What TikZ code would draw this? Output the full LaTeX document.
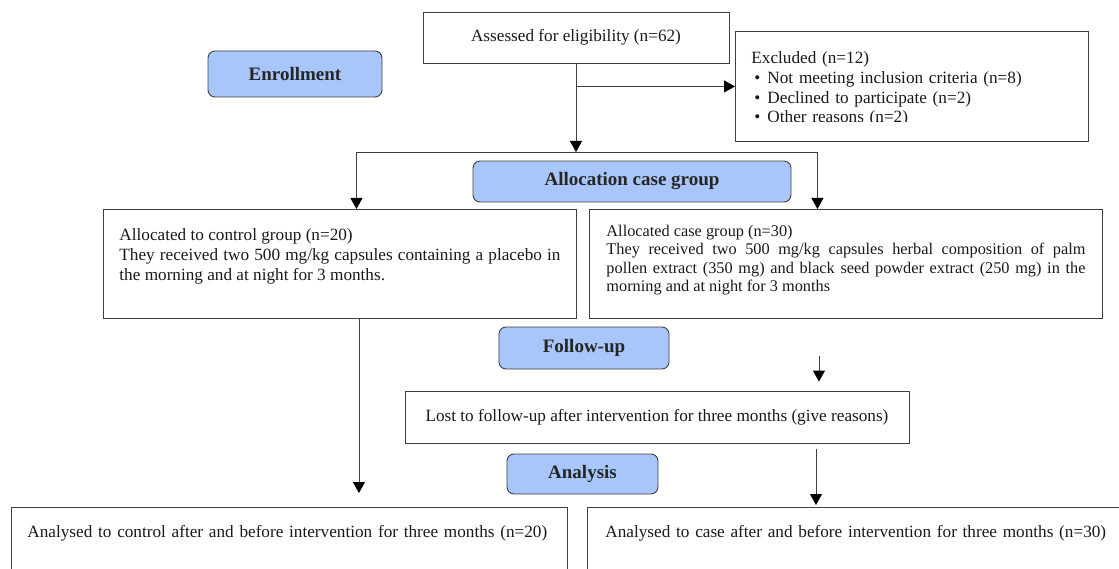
\documentclass[tikz,border=0pt]{standalone}
\usepackage{fontspec}
\setmainfont{Liberation Serif}
\usetikzlibrary{arrows.meta}
\definecolor{stageblue}{RGB}{168,198,250}
\definecolor{lineg}{RGB}{64,64,64}
\newcommand{\bodysize}{\fontsize{17.2}{19.8}\selectfont}
\newcommand{\casesize}{\fontsize{16.3}{18.5}\selectfont}
\newcommand{\stagesize}{\fontsize{19}{22}\selectfont\bfseries}

\begin{document}
\begin{tikzpicture}[
    x=1pt, y=-1pt,
    box/.style={draw=lineg, line width=0.9pt, inner sep=0pt, font=\bodysize, text=black!90},
    textbox/.style={box, anchor=north west, align=left, text height=12pt},
    stage/.style={draw=lineg, line width=0.9pt, rounded corners=7pt, fill=stageblue, inner sep=0pt, font=\stagesize, text=black!85},
    arr/.style={draw=lineg, line width=0.9pt, -{Triangle[length=11pt, width=12pt, color=black, fill=black]}}
]
\useasboundingbox (0,0) rectangle (1119,569);

\node[stage, minimum width=174pt, minimum height=46pt] (enroll) at (295,74) {Enrollment};
\node[box, minimum width=306pt, minimum height=51pt] (assess) at (576,37.8) {Assessed for eligibility (n=62)};
\node[textbox, text width=321pt, inner xsep=16pt, inner ysep=20pt, text depth=58pt] (excl) at (735,31) {Excluded (n=12)\\
\hspace*{3pt}\textbullet\hspace{7pt}Not meeting inclusion criteria (n=8)\\
\hspace*{3pt}\textbullet\hspace{7pt}Declined to participate (n=2)\\
\hspace*{3pt}\textbullet\hspace{7pt}Other reasons (n=2)};
\fill[white] ([xshift=1pt,yshift=1pt]excl.south west) rectangle ([xshift=-1pt,yshift=19.5pt]excl.south east);

\node[stage, minimum width=318pt, minimum height=41pt] (alloc) at (632,181.5) {Allocation case group};
\node[textbox, align=justify, text width=441pt, inner xsep=16pt, inner ysep=19.5pt, text depth=58pt] (ctrlgrp) at (103,209) {Allocated to control group (n=20)\\They received two 500 mg/kg capsules containing a placebo in\linebreak the morning and at night for 3 months.};
\node[textbox, align=justify, font=\casesize, text height=11.5pt, text width=479pt, inner xsep=17pt, inner ysep=15.2pt, text depth=67pt] (casegrp) at (589,209) {Allocated case group (n=30)\\They received two 500 mg/kg capsules herbal composition of palm\linebreak pollen extract (350 mg) and black seed powder extract (250 mg) in the\linebreak morning and at night for 3 months};

\node[stage, minimum width=170pt, minimum height=42pt] (follow) at (584,348) {Follow-up};
\node[box, minimum width=504pt, minimum height=52pt] (lost) at (657,417) {Lost to follow-up after intervention for three months (give reasons)};
\node[stage, minimum width=151pt, minimum height=40pt] (analysis) at (582.5,474) {Analysis};

\node[textbox, text width=524pt, inner xsep=16pt, inner ysep=18pt, text depth=60pt] (anctrl) at (11,507) {Analysed to control after and before intervention for three months (n=20)};
\node[textbox, text width=520pt, inner xsep=18pt, inner ysep=18pt, text depth=60pt] (ancase) at (587,507) {Analysed to case after and before intervention for three months (n=30)};

\coordinate (split) at (576,152);
\draw[arr] (assess) -- (split);
\draw[arr] (assess.south |- excl.west) -- (excl.west);
\draw[arr] (split) -| ([xshift=16.5pt]ctrlgrp.north);
\draw[arr] (split) -| ([xshift=-28.5pt]casegrp.north);
\draw[arr, shorten >=14pt] ([xshift=19pt]ctrlgrp.south) -- ([xshift=19pt]ctrlgrp.south |- anctrl.north);
\draw[arr, shorten <=37pt, shorten >=9pt] ([xshift=-27pt]casegrp.south) -- ([xshift=-27pt]casegrp.south |- lost.north);
\draw[arr, shorten <=6pt, shorten >=2pt] ([xshift=159pt]lost.south) -- ([xshift=159pt]lost.south |- ancase.north);
\end{tikzpicture}
\end{document}
